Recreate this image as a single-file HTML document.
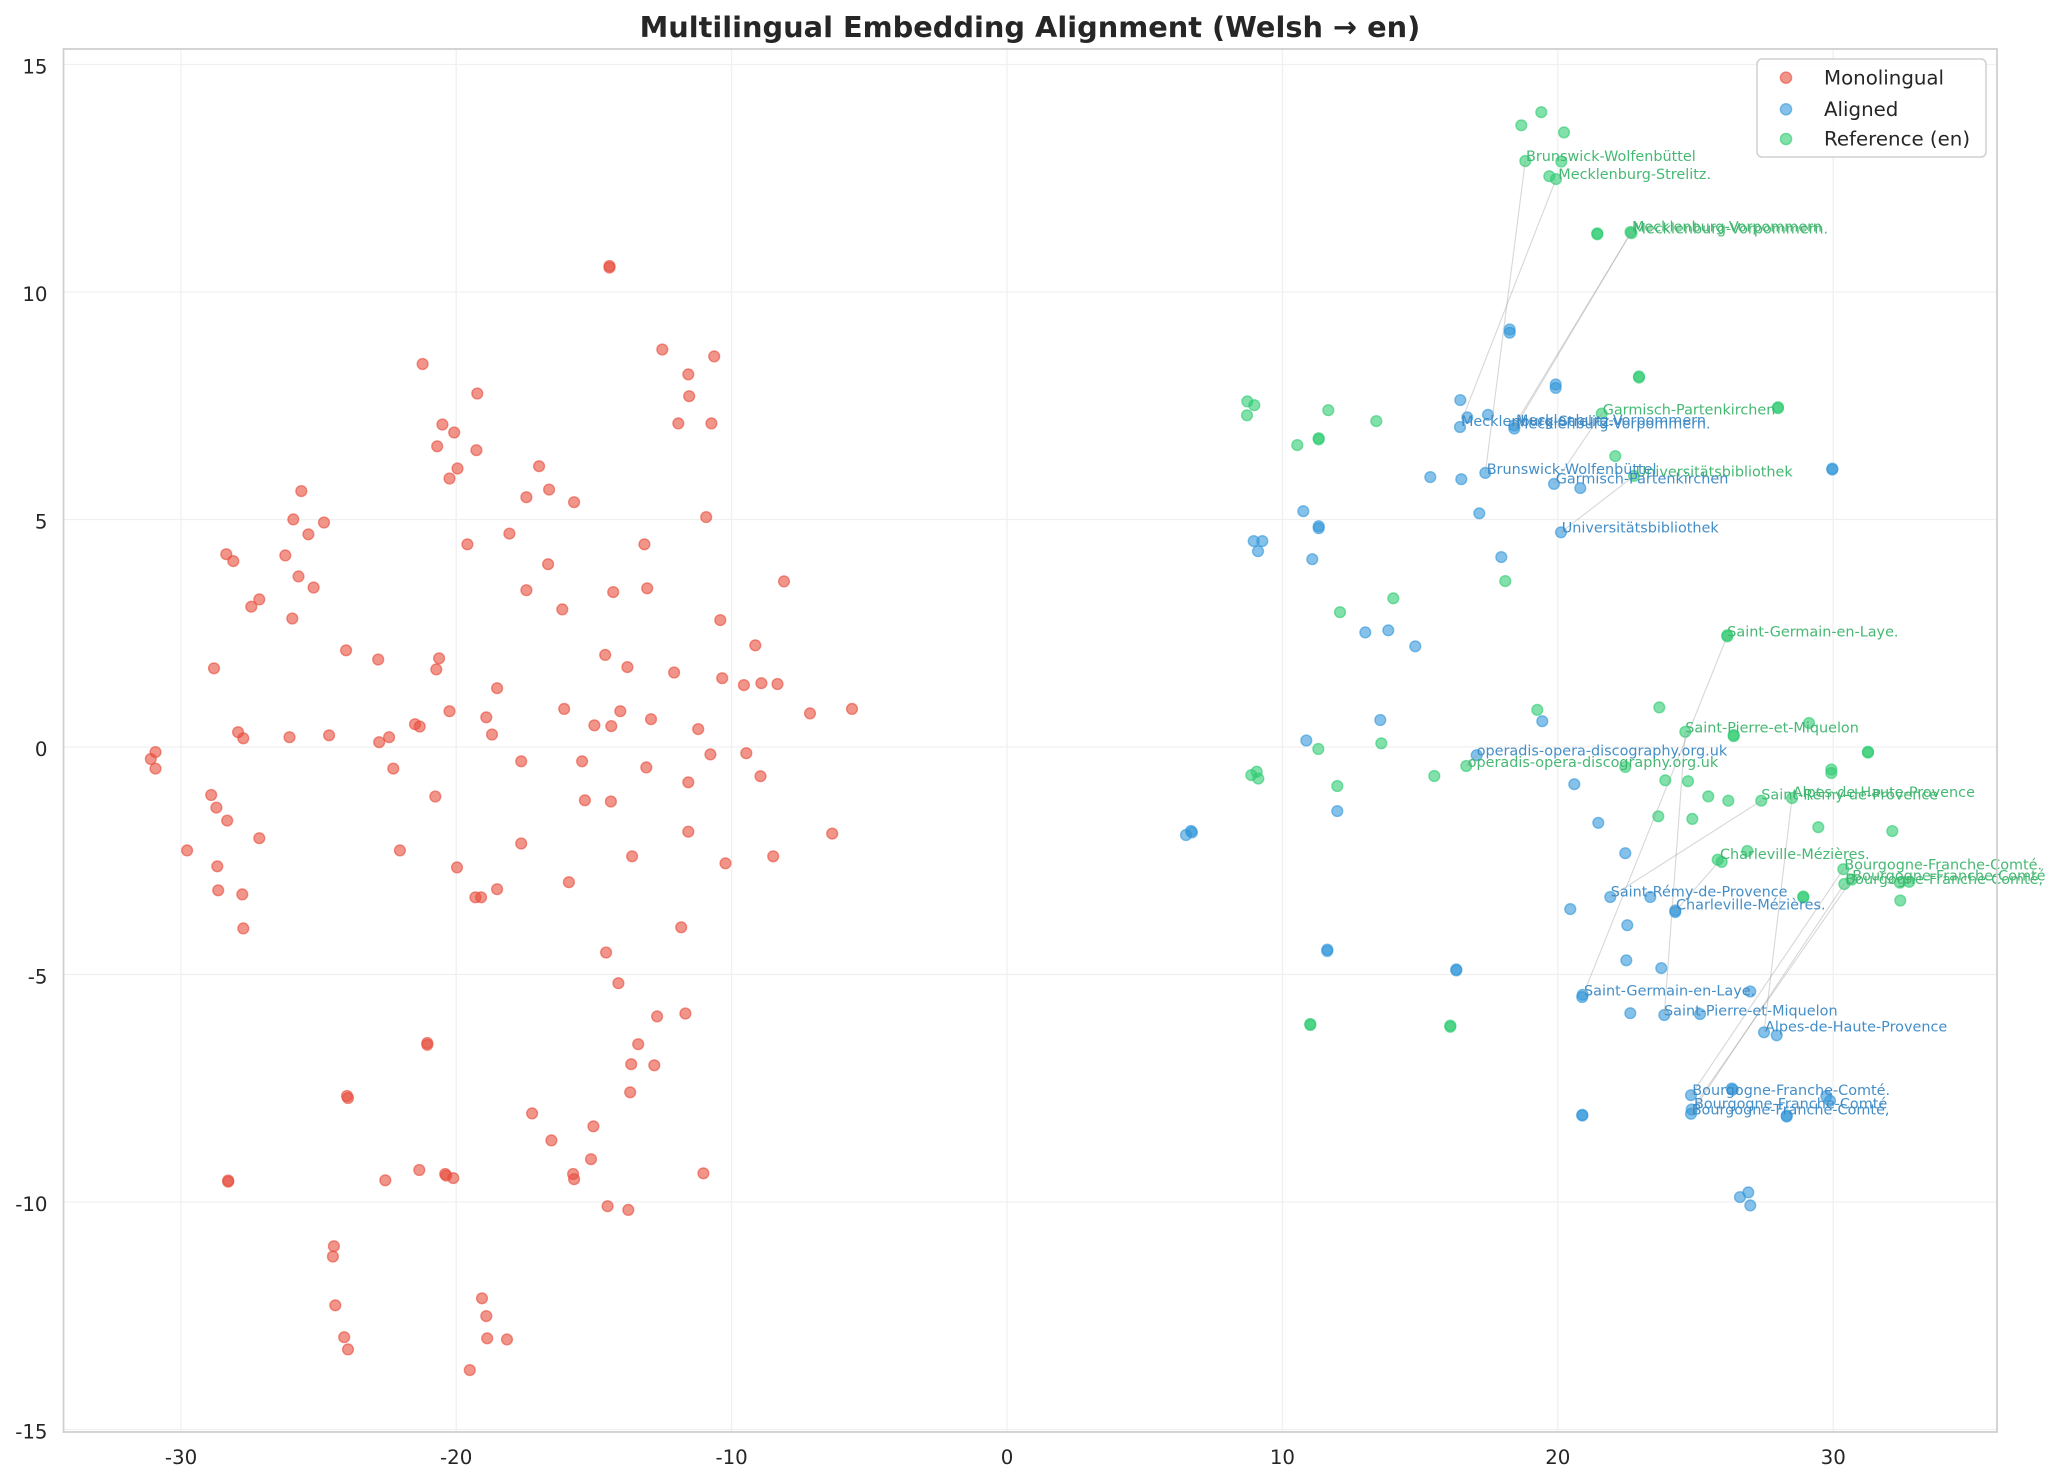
<!DOCTYPE html>
<html>
<head>
<meta charset="utf-8">
<style>
html,body{margin:0;padding:0;background:#fff;}
svg{display:block;}
text{font-family:"DejaVu Sans","Liberation Sans",sans-serif;}
</style>
</head>
<body>
<svg width="2062" height="1483" viewBox="0 0 2062 1483" xmlns="http://www.w3.org/2000/svg">
<rect x="0" y="0" width="2062" height="1483" fill="#ffffff"/>
<!-- grid -->
<g stroke="#f0f0f0" stroke-width="1.3">
<line x1="181" y1="49" x2="181" y2="1432"/>
<line x1="456.2" y1="49" x2="456.2" y2="1432"/>
<line x1="731.6" y1="49" x2="731.6" y2="1432"/>
<line x1="1007" y1="49" x2="1007" y2="1432"/>
<line x1="1282.4" y1="49" x2="1282.4" y2="1432"/>
<line x1="1557.8" y1="49" x2="1557.8" y2="1432"/>
<line x1="1833.2" y1="49" x2="1833.2" y2="1432"/>
<line x1="63.5" y1="64.5" x2="1997" y2="64.5"/>
<line x1="63.5" y1="292" x2="1997" y2="292"/>
<line x1="63.5" y1="519.5" x2="1997" y2="519.5"/>
<line x1="63.5" y1="747" x2="1997" y2="747"/>
<line x1="63.5" y1="974.5" x2="1997" y2="974.5"/>
<line x1="63.5" y1="1202" x2="1997" y2="1202"/>
<line x1="63.5" y1="1429.5" x2="1997" y2="1429.5"/>
</g>

<!-- Monolingual -->
<g fill="#e74c3c" fill-opacity="0.6" stroke="#e74c3c" stroke-opacity="0.6" stroke-width="1.4">
<circle cx="609.5" cy="266" r="5.4"/><circle cx="609.5" cy="267.6" r="5.4"/>
<circle cx="662.3" cy="349.5" r="5.4"/>
<circle cx="714.2" cy="356.4" r="5.4"/>
<circle cx="688.3" cy="374.4" r="5.4"/>
<circle cx="689.2" cy="396.2" r="5.4"/>
<circle cx="678.3" cy="423.4" r="5.4"/>
<circle cx="711.4" cy="423.4" r="5.4"/>
<circle cx="422.6" cy="364.0" r="5.4"/>
<circle cx="477.3" cy="393.5" r="5.4"/>
<circle cx="442.4" cy="424.5" r="5.4"/>
<circle cx="454.2" cy="432.5" r="5.4"/>
<circle cx="437.2" cy="446.3" r="5.4"/>
<circle cx="476.4" cy="450.2" r="5.4"/>
<circle cx="457.5" cy="468.5" r="5.4"/>
<circle cx="449.5" cy="478.5" r="5.4"/>
<circle cx="539.1" cy="466.2" r="5.4"/>
<circle cx="549.1" cy="489.6" r="5.4"/>
<circle cx="526.4" cy="497.2" r="5.4"/>
<circle cx="574.1" cy="502.2" r="5.4"/>
<circle cx="706.2" cy="517.1" r="5.4"/>
<circle cx="301.3" cy="491.1" r="5.4"/>
<circle cx="293.3" cy="519.4" r="5.4"/>
<circle cx="324.0" cy="522.5" r="5.4"/>
<circle cx="308.4" cy="534.3" r="5.4"/>
<circle cx="226.3" cy="554.2" r="5.4"/>
<circle cx="233.3" cy="561.1" r="5.4"/>
<circle cx="285.3" cy="555.4" r="5.4"/>
<circle cx="298.5" cy="576.4" r="5.4"/>
<circle cx="313.6" cy="587.5" r="5.4"/>
<circle cx="259.3" cy="599.4" r="5.4"/>
<circle cx="251.3" cy="606.7" r="5.4"/>
<circle cx="292.3" cy="618.5" r="5.4"/>
<circle cx="467.4" cy="544.3" r="5.4"/>
<circle cx="509.4" cy="533.6" r="5.4"/>
<circle cx="548.1" cy="564.2" r="5.4"/>
<circle cx="526.4" cy="590.2" r="5.4"/>
<circle cx="562.3" cy="609.4" r="5.4"/>
<circle cx="644.4" cy="544.3" r="5.4"/>
<circle cx="613.2" cy="592.1" r="5.4"/>
<circle cx="647.2" cy="588.3" r="5.4"/>
<circle cx="784.0" cy="581.4" r="5.4"/>
<circle cx="720.3" cy="620.1" r="5.4"/>
<circle cx="755.3" cy="645.3" r="5.4"/>
<circle cx="346.1" cy="650.3" r="5.4"/>
<circle cx="378.2" cy="659.5" r="5.4"/>
<circle cx="439.1" cy="658.3" r="5.4"/>
<circle cx="436.3" cy="669.4" r="5.4"/>
<circle cx="214.0" cy="668.3" r="5.4"/>
<circle cx="605.2" cy="654.9" r="5.4"/>
<circle cx="627.4" cy="667.1" r="5.4"/>
<circle cx="674.1" cy="672.5" r="5.4"/>
<circle cx="722.2" cy="678.2" r="5.4"/>
<circle cx="743.9" cy="685.1" r="5.4"/>
<circle cx="761.4" cy="683.2" r="5.4"/>
<circle cx="777.5" cy="684.0" r="5.4"/>
<circle cx="497.1" cy="688.2" r="5.4"/>
<circle cx="449.5" cy="711.2" r="5.4"/>
<circle cx="486.3" cy="717.3" r="5.4"/>
<circle cx="564.2" cy="708.9" r="5.4"/>
<circle cx="620.3" cy="711.2" r="5.4"/>
<circle cx="651.0" cy="719.2" r="5.4"/>
<circle cx="810.0" cy="713.4" r="5.4"/>
<circle cx="852.0" cy="708.9" r="5.4"/>
<circle cx="238.1" cy="732.2" r="5.4"/>
<circle cx="243.3" cy="738.3" r="5.4"/>
<circle cx="289.5" cy="737.2" r="5.4"/>
<circle cx="329.1" cy="735.3" r="5.4"/>
<circle cx="379.2" cy="742.2" r="5.4"/>
<circle cx="389.1" cy="737.2" r="5.4"/>
<circle cx="415.0" cy="724.2" r="5.4"/>
<circle cx="419.7" cy="726.5" r="5.4"/>
<circle cx="492.0" cy="734.5" r="5.4"/>
<circle cx="594.4" cy="725.3" r="5.4"/>
<circle cx="611.3" cy="726.1" r="5.4"/>
<circle cx="698.2" cy="729.1" r="5.4"/>
<circle cx="155.5" cy="752.1" r="5.4"/>
<circle cx="150.8" cy="759.0" r="5.4"/>
<circle cx="155.5" cy="768.6" r="5.4"/>
<circle cx="393.3" cy="768.6" r="5.4"/>
<circle cx="521.2" cy="761.3" r="5.4"/>
<circle cx="582.1" cy="761.3" r="5.4"/>
<circle cx="646.3" cy="767.4" r="5.4"/>
<circle cx="710.4" cy="754.4" r="5.4"/>
<circle cx="746.3" cy="753.2" r="5.4"/>
<circle cx="760.5" cy="776.2" r="5.4"/>
<circle cx="688.3" cy="782.3" r="5.4"/>
<circle cx="211.2" cy="795.0" r="5.4"/>
<circle cx="216.4" cy="807.6" r="5.4"/>
<circle cx="227.2" cy="820.6" r="5.4"/>
<circle cx="259.3" cy="838.2" r="5.4"/>
<circle cx="435.3" cy="796.5" r="5.4"/>
<circle cx="584.9" cy="800.3" r="5.4"/>
<circle cx="610.9" cy="801.5" r="5.4"/>
<circle cx="688.3" cy="831.7" r="5.4"/>
<circle cx="832.2" cy="833.6" r="5.4"/>
<circle cx="187.1" cy="850.4" r="5.4"/>
<circle cx="399.9" cy="850.4" r="5.4"/>
<circle cx="521.2" cy="843.5" r="5.4"/>
<circle cx="217.3" cy="866.3" r="5.4"/>
<circle cx="218.2" cy="890.3" r="5.4"/>
<circle cx="242.3" cy="894.4" r="5.4"/>
<circle cx="243.3" cy="928.4" r="5.4"/>
<circle cx="457.0" cy="867.4" r="5.4"/>
<circle cx="475.4" cy="897.3" r="5.4"/>
<circle cx="481.1" cy="897.3" r="5.4"/>
<circle cx="497.1" cy="889.2" r="5.4"/>
<circle cx="568.9" cy="882.2" r="5.4"/>
<circle cx="632.1" cy="856.3" r="5.4"/>
<circle cx="725.5" cy="863.3" r="5.4"/>
<circle cx="773.2" cy="856.3" r="5.4"/>
<circle cx="681.2" cy="927.3" r="5.4"/>
<circle cx="606.1" cy="952.5" r="5.4"/>
<circle cx="618.4" cy="983.2" r="5.4"/>
<circle cx="657.1" cy="1016.4" r="5.4"/>
<circle cx="685.4" cy="1013.5" r="5.4"/>
<circle cx="427.3" cy="1043" r="5.4"/><circle cx="427.3" cy="1044.8" r="5.4"/>
<circle cx="638.2" cy="1044.2" r="5.4"/>
<circle cx="631.2" cy="1064.2" r="5.4"/>
<circle cx="654.3" cy="1065.3" r="5.4"/>
<circle cx="630.2" cy="1092.3" r="5.4"/>
<circle cx="347" cy="1096" r="5.4"/><circle cx="348" cy="1098" r="5.4"/>
<circle cx="532.1" cy="1113.4" r="5.4"/>
<circle cx="593.4" cy="1126.3" r="5.4"/>
<circle cx="551.4" cy="1140.4" r="5.4"/>
<circle cx="591.0" cy="1159.2" r="5.4"/>
<circle cx="703.4" cy="1173.3" r="5.4"/>
<circle cx="228.2" cy="1180.5" r="5.4"/><circle cx="228.2" cy="1181.7" r="5.4"/>
<circle cx="385.3" cy="1180.3" r="5.4"/>
<circle cx="419.3" cy="1170.0" r="5.4"/>
<circle cx="445.2" cy="1174" r="5.4"/><circle cx="446.2" cy="1175.6" r="5.4"/>
<circle cx="453.3" cy="1178.1" r="5.4"/>
<circle cx="573.1" cy="1174.0" r="5.4"/>
<circle cx="574.1" cy="1179.2" r="5.4"/>
<circle cx="607.6" cy="1206.2" r="5.4"/>
<circle cx="628.3" cy="1209.9" r="5.4"/>
<circle cx="333.9" cy="1246.2" r="5.4"/>
<circle cx="332.9" cy="1256.5" r="5.4"/>
<circle cx="335.3" cy="1305.3" r="5.4"/>
<circle cx="344.2" cy="1337.2" r="5.4"/>
<circle cx="348.0" cy="1349.4" r="5.4"/>
<circle cx="482.0" cy="1298.3" r="5.4"/>
<circle cx="486.3" cy="1316.1" r="5.4"/>
<circle cx="487.2" cy="1338.3" r="5.4"/>
<circle cx="507.0" cy="1339.4" r="5.4"/>
<circle cx="469.8" cy="1370.1" r="5.4"/>
</g>

<!-- Aligned -->
<g fill="#3498db" fill-opacity="0.6" stroke="#3498db" stroke-opacity="0.6" stroke-width="1.4">
<circle cx="1509.7" cy="329.5" r="5.4"/><circle cx="1509.7" cy="332.7" r="5.4"/>
<circle cx="1555.7" cy="384.5" r="5.4"/><circle cx="1555.7" cy="387.9" r="5.4"/>
<circle cx="1460.3" cy="400.1" r="5.4"/>
<circle cx="1467.3" cy="417.4" r="5.4"/>
<circle cx="1488.0" cy="414.8" r="5.4"/>
<circle cx="1460.0" cy="427.0" r="5.4"/>
<circle cx="1514.3" cy="425.5" r="5.4"/><circle cx="1514.3" cy="428.5" r="5.4"/>
<circle cx="1430.3" cy="477.1" r="5.4"/>
<circle cx="1461.3" cy="479.2" r="5.4"/>
<circle cx="1485.3" cy="472.9" r="5.4"/>
<circle cx="1554.0" cy="483.9" r="5.4"/>
<circle cx="1580.3" cy="488.1" r="5.4"/>
<circle cx="1479.3" cy="513.3" r="5.4"/>
<circle cx="1561.0" cy="532.3" r="5.4"/>
<circle cx="1303.3" cy="511.2" r="5.4"/>
<circle cx="1318.7" cy="526.2" r="5.4"/><circle cx="1318.7" cy="528.2" r="5.4"/>
<circle cx="1253.7" cy="541.1" r="5.4"/>
<circle cx="1262.3" cy="541.1" r="5.4"/>
<circle cx="1258.0" cy="551.2" r="5.4"/>
<circle cx="1312.3" cy="559.2" r="5.4"/>
<circle cx="1501.3" cy="557.1" r="5.4"/>
<circle cx="1365.3" cy="632.4" r="5.4"/>
<circle cx="1388.3" cy="630.3" r="5.4"/>
<circle cx="1415.3" cy="646.3" r="5.4"/>
<circle cx="1542.3" cy="721.2" r="5.4"/>
<circle cx="1380.3" cy="720.0" r="5.4"/>
<circle cx="1306.3" cy="740.5" r="5.4"/>
<circle cx="1476.7" cy="755.2" r="5.4"/>
<circle cx="1832.3" cy="468.6" r="5.4"/><circle cx="1832.3" cy="469.6" r="5.4"/>
<circle cx="1337.3" cy="811.1" r="5.4"/>
<circle cx="1186.0" cy="835.0" r="5.4"/>
<circle cx="1191.0" cy="831.0" r="5.4"/><circle cx="1192.0" cy="832.4" r="5.4"/>
<circle cx="1574.3" cy="784.2" r="5.4"/>
<circle cx="1598.3" cy="822.8" r="5.4"/>
<circle cx="1570.3" cy="909.1" r="5.4"/>
<circle cx="1327.3" cy="949.6" r="5.4"/><circle cx="1327.3" cy="951.0" r="5.4"/>
<circle cx="1456.3" cy="969.4" r="5.4"/><circle cx="1456.3" cy="970.4" r="5.4"/>
<circle cx="1582.7" cy="994.8" r="5.4"/><circle cx="1582.2" cy="997.0" r="5.4"/>
<circle cx="1582.3" cy="1114.8" r="5.4"/><circle cx="1582.3" cy="1115.6" r="5.4"/>
<circle cx="1625.3" cy="853.2" r="5.4"/>
<circle cx="1610.3" cy="897.0" r="5.4"/>
<circle cx="1650.3" cy="897.0" r="5.4"/>
<circle cx="1675.3" cy="910.5" r="5.4"/><circle cx="1675.3" cy="912.1" r="5.4"/>
<circle cx="1627.3" cy="925.2" r="5.4"/>
<circle cx="1626.3" cy="960.3" r="5.4"/>
<circle cx="1661.3" cy="968.1" r="5.4"/>
<circle cx="1750.3" cy="991.5" r="5.4"/>
<circle cx="1630.3" cy="1013.2" r="5.4"/>
<circle cx="1664.3" cy="1015.0" r="5.4"/>
<circle cx="1700.0" cy="1014.1" r="5.4"/>
<circle cx="1764.0" cy="1032.3" r="5.4"/>
<circle cx="1776.7" cy="1035.3" r="5.4"/>
<circle cx="1731.8" cy="1088.5" r="5.4"/><circle cx="1732.8" cy="1089.7" r="5.4"/>
<circle cx="1691.0" cy="1095.2" r="5.4"/>
<circle cx="1826.3" cy="1096.1" r="5.4"/>
<circle cx="1830.0" cy="1100.8" r="5.4"/>
<circle cx="1691.7" cy="1109.5" r="5.4"/>
<circle cx="1691.0" cy="1113.8" r="5.4"/>
<circle cx="1786.7" cy="1115.5" r="5.4"/><circle cx="1786.7" cy="1116.5" r="5.4"/>
<circle cx="1748.3" cy="1192.4" r="5.4"/>
<circle cx="1740.0" cy="1197.1" r="5.4"/>
<circle cx="1750.3" cy="1205.4" r="5.4"/>
</g>

<!-- Reference -->
<g fill="#2ecc71" fill-opacity="0.6" stroke="#2ecc71" stroke-opacity="0.6" stroke-width="1.4">
<circle cx="1541.3" cy="112.2" r="5.4"/>
<circle cx="1521.3" cy="125.3" r="5.4"/>
<circle cx="1564.0" cy="132.4" r="5.4"/>
<circle cx="1525.3" cy="161.0" r="5.4"/>
<circle cx="1561.3" cy="161.5" r="5.4"/>
<circle cx="1549.3" cy="176.2" r="5.4"/>
<circle cx="1556.0" cy="179.1" r="5.4"/>
<circle cx="1597.3" cy="233.3" r="5.4"/><circle cx="1597.3" cy="234.3" r="5.4"/>
<circle cx="1630.5" cy="232.0" r="5.4"/><circle cx="1631.5" cy="233.2" r="5.4"/>
<circle cx="1639.0" cy="376.4" r="5.4"/><circle cx="1639.0" cy="377.6" r="5.4"/>
<circle cx="1778.0" cy="407.2" r="5.4"/><circle cx="1778.0" cy="408.2" r="5.4"/>
<circle cx="1601.7" cy="413.6" r="5.4"/>
<circle cx="1615.3" cy="456.1" r="5.4"/>
<circle cx="1634.0" cy="475.9" r="5.4"/>
<circle cx="1247.3" cy="401.4" r="5.4"/>
<circle cx="1254.3" cy="405.2" r="5.4"/>
<circle cx="1247.0" cy="415.3" r="5.4"/>
<circle cx="1328.3" cy="410.2" r="5.4"/>
<circle cx="1376.3" cy="421.1" r="5.4"/>
<circle cx="1318.7" cy="438.2" r="5.4"/><circle cx="1318.7" cy="439.4" r="5.4"/>
<circle cx="1297.3" cy="445.1" r="5.4"/>
<circle cx="1505.3" cy="581.1" r="5.4"/>
<circle cx="1393.3" cy="598.3" r="5.4"/>
<circle cx="1340.0" cy="612.2" r="5.4"/>
<circle cx="1727.3" cy="635.2" r="5.4"/><circle cx="1727.3" cy="636.4" r="5.4"/>
<circle cx="1659.3" cy="707.4" r="5.4"/>
<circle cx="1537.3" cy="709.9" r="5.4"/>
<circle cx="1685.3" cy="731.8" r="5.4"/>
<circle cx="1733.7" cy="735.0" r="5.4"/><circle cx="1733.7" cy="736.2" r="5.4"/>
<circle cx="1809.0" cy="723.0" r="5.4"/>
<circle cx="1868.0" cy="751.7" r="5.4"/><circle cx="1868.0" cy="752.7" r="5.4"/>
<circle cx="1318.3" cy="749.0" r="5.4"/>
<circle cx="1381.3" cy="743.3" r="5.4"/>
<circle cx="1466.3" cy="766.0" r="5.4"/>
<circle cx="1434.3" cy="776.0" r="5.4"/>
<circle cx="1256.7" cy="771.7" r="5.4"/>
<circle cx="1251.3" cy="775.1" r="5.4"/>
<circle cx="1258.3" cy="778.6" r="5.4"/>
<circle cx="1337.3" cy="786.0" r="5.4"/>
<circle cx="1310.3" cy="1024.0" r="5.4"/><circle cx="1310.3" cy="1025.0" r="5.4"/>
<circle cx="1450.3" cy="1025.6" r="5.4"/><circle cx="1450.3" cy="1026.8" r="5.4"/>
<circle cx="1831.3" cy="769.5" r="5.4"/>
<circle cx="1831.3" cy="773.0" r="5.4"/>
<circle cx="1625.3" cy="766.9" r="5.4"/>
<circle cx="1665.3" cy="780.3" r="5.4"/>
<circle cx="1688.0" cy="781.2" r="5.4"/>
<circle cx="1708.3" cy="796.4" r="5.4"/>
<circle cx="1728.3" cy="800.7" r="5.4"/>
<circle cx="1761.3" cy="800.7" r="5.4"/>
<circle cx="1792.0" cy="798.1" r="5.4"/>
<circle cx="1658.3" cy="816.3" r="5.4"/>
<circle cx="1692.3" cy="818.9" r="5.4"/>
<circle cx="1818.3" cy="827.2" r="5.4"/>
<circle cx="1892.3" cy="831.1" r="5.4"/>
<circle cx="1747.3" cy="851.0" r="5.4"/>
<circle cx="1717.7" cy="859.7" r="5.4"/>
<circle cx="1721.7" cy="861.9" r="5.4"/>
<circle cx="1843.3" cy="869.2" r="5.4"/>
<circle cx="1851.7" cy="879.7" r="5.4"/>
<circle cx="1844.3" cy="884.0" r="5.4"/>
<circle cx="1900.0" cy="882.7" r="5.4"/>
<circle cx="1909.3" cy="881.8" r="5.4"/>
<circle cx="1803.3" cy="896.5" r="5.4"/><circle cx="1803.3" cy="897.5" r="5.4"/>
<circle cx="1900.3" cy="900.5" r="5.4"/>
</g>

<!-- connecting lines -->
<g stroke="#9a9a9a" stroke-opacity="0.4" stroke-width="1.1" fill="none">
<line x1="1485.3" y1="472.9" x2="1525.3" y2="161.0"/>
<line x1="1463.5" y1="416" x2="1556.0" y2="179.1"/>
<line x1="1514.3" y1="425.5" x2="1631" y2="232.6"/>
<line x1="1514.3" y1="428.5" x2="1631" y2="232.6"/>
<line x1="1554" y1="483.9" x2="1601.7" y2="413.6"/>
<line x1="1561" y1="532.3" x2="1634" y2="475.9"/>
<line x1="1476.7" y1="755.2" x2="1466.3" y2="766"/>
<line x1="1582.7" y1="995.9" x2="1727.3" y2="635.8"/>
<line x1="1664.3" y1="1015" x2="1685.3" y2="731.8"/>
<line x1="1610.3" y1="897" x2="1761.3" y2="800.7"/>
<line x1="1764" y1="1032.3" x2="1792" y2="798.1"/>
<line x1="1675.3" y1="911.3" x2="1719.7" y2="860.8"/>
<line x1="1691" y1="1095.2" x2="1843.3" y2="869.2"/>
<line x1="1691.7" y1="1109.5" x2="1851.7" y2="879.7"/>
<line x1="1691" y1="1113.8" x2="1844.3" y2="884"/>
</g>

<!-- green labels -->
<g font-size="14.4" fill="#3cb46c" fill-opacity="0.95">
<text x="1526" y="161">Brunswick-Wolfenbüttel</text>
<text x="1558.3" y="179">Mecklenburg-Strelitz.</text>
<text x="1632" y="231.5">Mecklenburg-Vorpommern</text>
<text x="1633.5" y="233.5">Mecklenburg-Vorpommern.</text>
<text x="1602.7" y="414.6">Garmisch-Partenkirchen</text>
<text x="1635.7" y="476.4">Universitätsbibliothek</text>
<text x="1727.3" y="636.4">Saint-Germain-en-Laye.</text>
<text x="1685.3" y="732.3">Saint-Pierre-et-Miquelon</text>
<text x="1467.7" y="766.9">operadis-opera-discography.org.uk</text>
<text x="1761.3" y="799.4">Saint-Rémy-de-Provence</text>
<text x="1792.7" y="797.2">Alpes-de-Haute-Provence</text>
<text x="1720" y="859.2">Charleville-Mézières.</text>
<text x="1844.3" y="869.7">Bourgogne-Franche-Comté.</text>
<text x="1852.3" y="880.5">Bourgogne-Franche-Comté</text>
<text x="1845.3" y="884">Bourgogne-Franche-Comté,</text>
</g>

<!-- blue labels -->
<g font-size="14.4" fill="#3a88c4" fill-opacity="0.95">
<text x="1461" y="426">Mecklenburg-Strelitz.</text>
<text x="1516" y="425">Mecklenburg-Vorpommern</text>
<text x="1516" y="428.4">Mecklenburg-Vorpommern.</text>
<text x="1486.7" y="474">Brunswick-Wolfenbüttel</text>
<text x="1555.7" y="483.3">Garmisch-Partenkirchen</text>
<text x="1561.7" y="532.4">Universitätsbibliothek</text>
<text x="1476.7" y="755.3">operadis-opera-discography.org.uk</text>
<text x="1584" y="995.4">Saint-Germain-en-Laye.</text>
<text x="1664" y="1015.4">Saint-Pierre-et-Miquelon</text>
<text x="1610.7" y="896.6">Saint-Rémy-de-Provence</text>
<text x="1676" y="909.6">Charleville-Mézières.</text>
<text x="1765" y="1031.4">Alpes-de-Haute-Provence</text>
<text x="1692.3" y="1094.8">Bourgogne-Franche-Comté.</text>
<text x="1694" y="1108.6">Bourgogne-Franche-Comté</text>
<text x="1691.7" y="1114.7">Bourgogne-Franche-Comté,</text>
</g>

<!-- spines -->
<rect x="63.5" y="49" width="1933.5" height="1383" fill="none" stroke="#cfcfcf" stroke-width="1.8"/>

<!-- tick labels -->
<g font-size="19.8" fill="#262626" text-anchor="middle">
<text x="181" y="1464">-30</text>
<text x="456.2" y="1464">-20</text>
<text x="731.6" y="1464">-10</text>
<text x="1007" y="1464">0</text>
<text x="1282.4" y="1464">10</text>
<text x="1557.8" y="1464">20</text>
<text x="1833.2" y="1464">30</text>
</g>
<g font-size="19.8" fill="#262626" text-anchor="end">
<text x="47.5" y="73.5">15</text>
<text x="47.5" y="301">10</text>
<text x="47.5" y="528.5">5</text>
<text x="47.5" y="756">0</text>
<text x="47.5" y="983.5">-5</text>
<text x="47.5" y="1211">-10</text>
<text x="47.5" y="1438.5">-15</text>
</g>

<!-- title -->
<text x="1030" y="37" font-size="28.8" font-weight="bold" fill="#262626" text-anchor="middle">Multilingual Embedding Alignment (Welsh → en)</text>

<!-- legend -->
<rect x="1757" y="59" width="229" height="98" rx="5" ry="5" fill="#ffffff" fill-opacity="0.85" stroke="#d0d0d0" stroke-width="1.5"/>
<circle cx="1786" cy="77.7" r="5.6" fill="#e74c3c" fill-opacity="0.6" stroke="#e74c3c" stroke-opacity="0.6" stroke-width="1.4"/>
<circle cx="1786" cy="109.3" r="5.6" fill="#3498db" fill-opacity="0.6" stroke="#3498db" stroke-opacity="0.6" stroke-width="1.4"/>
<circle cx="1786" cy="139" r="5.6" fill="#2ecc71" fill-opacity="0.6" stroke="#2ecc71" stroke-opacity="0.6" stroke-width="1.4"/>
<g font-size="19.8" fill="#262626">
<text x="1824" y="84.5">Monolingual</text>
<text x="1824" y="115.8">Aligned</text>
<text x="1824" y="145.5">Reference (en)</text>
</g>
</svg>
</body>
</html>
